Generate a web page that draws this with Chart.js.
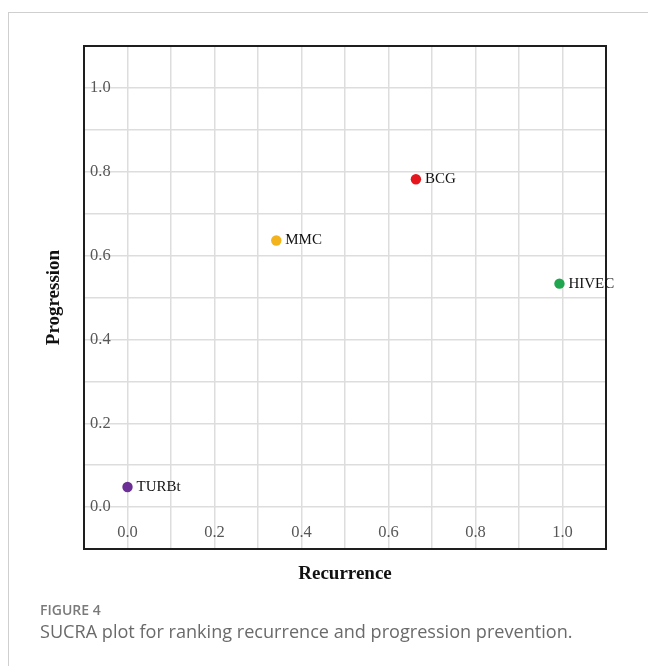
<!DOCTYPE html>
<html>
<head>
<meta charset="utf-8">
<script src="https://cdn.jsdelivr.net/npm/chart.js@4/dist/chart.umd.min.js"></script>
<style>
  html, body { margin: 0; padding: 0; background: #ffffff; }
  body { width: 648px; height: 666px; position: relative; overflow: hidden; }
  #frame {
    position: absolute; left: 8px; top: 12px; width: 640px; height: 654px;
    border-top: 1px solid #cfcfcf; border-left: 1px solid #cfcfcf;
    box-sizing: border-box;
  }
  #wrap { position: absolute; left: 0; top: 0; width: 648px; height: 666px; }
  .cap { position: absolute; left: 40px; font-family: "Open Sans", "Noto Sans", sans-serif; line-height: 1; white-space: nowrap; }
  #figno { top: 602.5px; font-size: 14px; font-weight: 600; color: #7a7a7a; }
  #figtext { top: 621.5px; font-size: 18.1px; color: #6a6a6a; }
</style>
</head>
<body>
<div id="frame"></div>
<div id="wrap"><canvas id="c" width="648" height="666"></canvas></div>
<div class="cap" id="figno">FIGURE 4</div>
<div class="cap" id="figtext">SUCRA plot for ranking recurrence and progression prevention.</div>
<script>
// SUCRA values per treatment
const treatments  = ['TURBt', 'MMC', 'BCG', 'HIVEC'];
const recurrence  = [0.000, 0.342, 0.663, 0.993];
const progression = [0.048, 0.636, 0.782, 0.533];
const pointColors = ['#6b2f95', '#f2b31d', '#e5161d', '#1fa64f'];

// axis tick labels (every 0.2; grid every 0.1)
const xTickLabels = ['0.0', '0.2', '0.4', '0.6', '0.8', '1.0'];
const yTickLabels = ['0.0', '0.2', '0.4', '0.6', '0.8', '1.0'];

const serif = '"Liberation Serif", "Times New Roman", serif';

function labelFor(list) {
  return function (v) {
    const k = Math.round(v * 10);
    if (k >= 0 && k <= 10 && k % 2 === 0) return list[k / 2];
    return '';
  };
}

// dark frame around the plotting area
const boxPlugin = {
  id: 'plotBox',
  afterDatasetsDraw(chart) {
    const a = chart.chartArea, ctx = chart.ctx;
    ctx.save();
    ctx.strokeStyle = '#1e1e1e';
    ctx.lineWidth = 2;
    ctx.strokeRect(a.left, a.top, a.right - a.left, a.bottom - a.top);
    ctx.restore();
  }
};

// treatment names beside each point
const nameLabels = {
  id: 'nameLabels',
  afterDraw(chart) {
    const ctx = chart.ctx;
    const meta = chart.getDatasetMeta(0);
    ctx.save();
    ctx.font = '15px ' + serif;
    ctx.fillStyle = '#111111';
    ctx.textAlign = 'left';
    ctx.textBaseline = 'middle';
    meta.data.forEach((pt, i) => {
      ctx.fillText(treatments[i], pt.x + 9, pt.y);
    });
    ctx.restore();
  }
};

const gridColor = '#dddddd';

new Chart(document.getElementById('c'), {
  type: 'scatter',
  data: {
    datasets: [{
      label: 'SUCRA',
      data: treatments.map((t, i) => ({ x: recurrence[i], y: progression[i] })),
      backgroundColor: pointColors,
      borderWidth: 0,
      pointRadius: 5.2,
      pointHoverRadius: 5.2
    }]
  },
  options: {
    responsive: false,
    animation: false,
    devicePixelRatio: 1,
    layout: { padding: { left: 0, right: 42, top: 46, bottom: 0 } },
    plugins: {
      legend: { display: false },
      tooltip: { enabled: false }
    },
    scales: {
      x: {
        type: 'linear',
        min: -0.1,
        max: 1.1,
        border: { display: false },
        grid: { color: gridColor, lineWidth: 1.5, drawTicks: false },
        ticks: {
          stepSize: 0.1,
          autoSkip: false,
          maxRotation: 0,
          mirror: true,
          padding: 6,
          color: '#575757',
          font: { family: serif, size: 16.5 },
          callback: labelFor(xTickLabels)
        },
        title: {
          display: true,
          text: 'Recurrence',
          color: '#111111',
          font: { family: serif, size: 19, weight: 'bold' },
          padding: { top: 0, bottom: 81 }
        },
        afterFit(scale) { scale.height = 117; }
      },
      y: {
        type: 'linear',
        min: -0.1,
        max: 1.1,
        border: { display: false },
        grid: { color: gridColor, lineWidth: 1.5, drawTicks: false },
        ticks: {
          stepSize: 0.1,
          autoSkip: false,
          mirror: true,
          padding: 6,
          color: '#575757',
          font: { family: serif, size: 16.5 },
          callback: labelFor(yTickLabels)
        },
        title: {
          display: true,
          text: 'Progression',
          color: '#111111',
          font: { family: serif, size: 19, weight: 'bold' },
          padding: { top: 43, bottom: 0 }
        },
        afterFit(scale) { scale.width = 84; }
      }
    }
  },
  plugins: [boxPlugin, nameLabels]
});
</script>
</body>
</html>
